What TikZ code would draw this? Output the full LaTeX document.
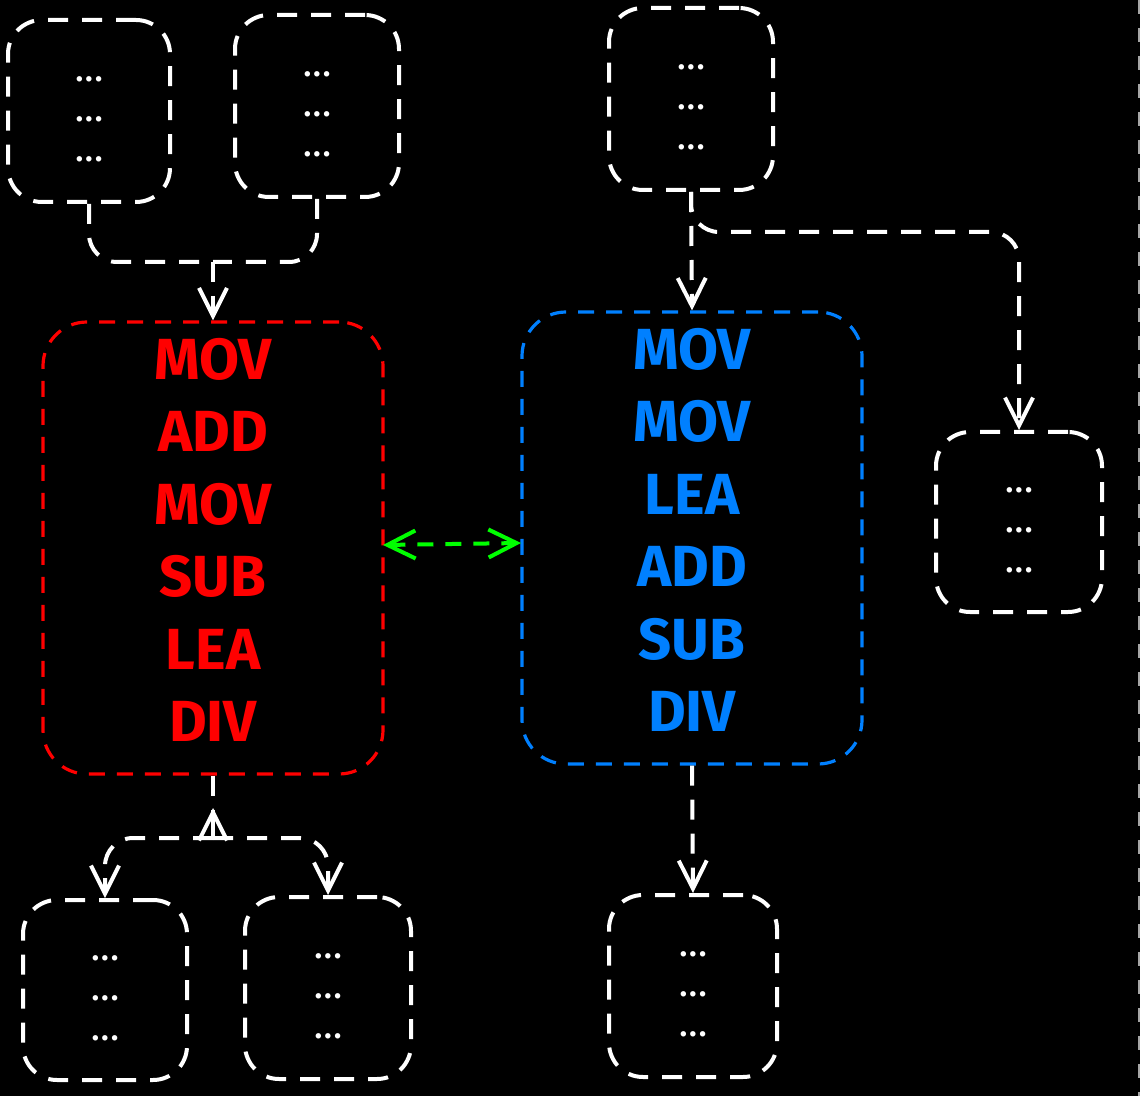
\documentclass[tikz,border=0pt]{standalone}
\usepackage{fontspec}
\setmainfont{Fira Sans}
\usetikzlibrary{arrows.meta,calc}
\definecolor{cred}{RGB}{255,0,0}
\definecolor{cblue}{RGB}{0,128,255}
\definecolor{cgreen}{RGB}{0,255,0}
\newcommand{\tdots}{.\kern1.2pt.\kern1.2pt.}
\newcommand{\threelines}{\tdots\\\tdots\\\tdots}
\tikzset{
  smallbox/.style={draw=white, line width=2pt, dash pattern=on 10pt off 7pt, rounded corners=17pt,
    inner sep=0pt},
  dotstext/.style={text=white, align=center, font=\fontsize{15}{20}\selectfont\bfseries, inner sep=0pt},
  bigbox/.style={line width=1.6pt, dash pattern=on 8pt off 6pt, rounded corners=22pt,
    inner sep=0pt, minimum width=170pt, minimum height=226pt},
  asmtext/.style={align=center, inner sep=0pt, font=\fontsize{29}{36.25}\selectfont\bfseries},
  conn/.style={draw=white, line width=2pt, dash pattern=on 10pt off 7pt, rounded corners=14pt},
  gconn/.style={draw=cgreen, line width=2pt, dash pattern=on 8pt off 6pt},
  tipw/.style={-{Straight Barb[length=14pt,width=14pt,line width=2pt]}},
}
\begin{document}
\begin{tikzpicture}[x=0.5pt,y=-0.5pt]
\fill[black] (0,0) rectangle (1140,1096);
\useasboundingbox (0,0) rectangle (1140,1096);
% right edge dashed line
\draw[gray!70, line width=0.8pt, dash pattern=on 7pt off 7pt] (1139,0) -- (1139,1096);

% small boxes
\node[smallbox, minimum width=81pt, minimum height=91pt] (tl1) at (89,111) {};
\node[smallbox, minimum width=82pt, minimum height=91pt] (tl2) at (317,106) {};
\node[smallbox, minimum width=82pt, minimum height=91pt] (tr) at (691,99) {};
\node[smallbox, minimum width=83pt, minimum height=90pt] (rmid) at (1019,522) {};
\node[smallbox, minimum width=82pt, minimum height=90pt] (bl1) at (105,990) {};
\node[smallbox, minimum width=83pt, minimum height=91pt] (bl2) at (328,988) {};
\node[smallbox, minimum width=84pt, minimum height=91pt] (br) at (693,986) {};
\foreach \b in {tl1,tl2,tr,rmid,bl1,bl2,br}{
  \node[dotstext] (\b-t) at ($(\b.center)+(0,8)$) {\threelines};
}

% big boxes
\node[bigbox, draw=cred] (red) at (213,548) {};
\node[asmtext, text=cred] (red-t) at ($(red.center)+(0,-8)$) {MOV\\ADD\\MOV\\SUB\\LEA\\DIV};
\node[bigbox, draw=cblue] (blue) at (692,538) {};
\node[asmtext, text=cblue] (blue-t) at ($(blue.center)+(0,-8)$) {MOV\\MOV\\LEA\\ADD\\SUB\\DIV};

% top-left merge
\coordinate (j1) at (213,262);
\draw[conn] (tl1.south) |- (j1);
\draw[conn] (tl2.south) |- (j1);
\draw[conn, tipw] (j1) -- (red.north);

% top-right
\draw[conn, tipw] (tr.south) -- (blue.north);
\draw[conn, tipw] (tr.south) -- ++(0,40) -| (rmid.north);

% red bottom split
\coordinate (j2) at (213,838);
\draw[conn] (red.south) -- (j2);
\draw[conn, tipw] (j2) -- ++(0,-30);
\draw[conn, tipw] (j2) -| (bl1.north);
\draw[conn, tipw] (j2) -| (bl2.north);

% blue bottom
\draw[conn, tipw] (blue.south) -- (br.north);

% green double arrow
\coordinate (ga) at (383,545);
\coordinate (gb) at (521,543);
\draw[gconn, {Straight Barb[length=14pt,width=14pt,line width=2pt]}-{Straight Barb[length=14pt,width=14pt,line width=2pt]}] (ga) -- (gb);
\end{tikzpicture}
\end{document}
